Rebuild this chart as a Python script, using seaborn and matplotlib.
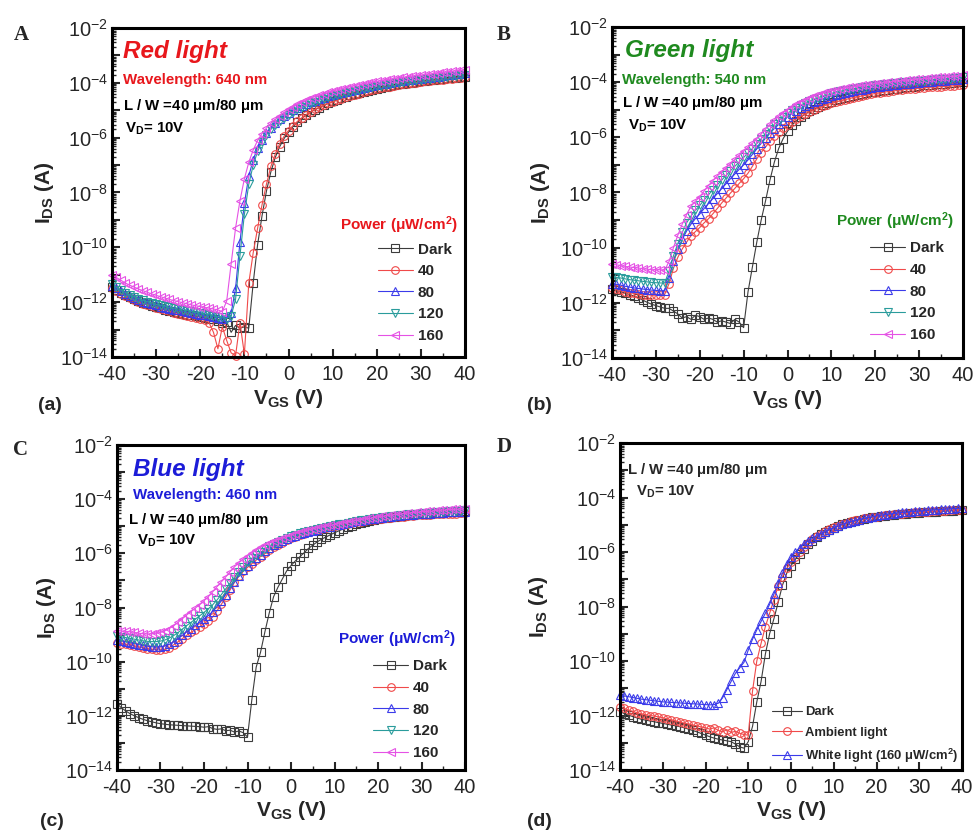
import numpy as np
import pandas as pd
import matplotlib
matplotlib.use("Agg")
import matplotlib.pyplot as plt
import seaborn as sns
from matplotlib.lines import Line2D
from matplotlib.ticker import LogLocator, MultipleLocator, NullFormatter, FuncFormatter

# ---------------- data (log10 of I_DS in A), V_GS from -40 to 40 V step 1 V ----------------
VGS = list(range(-40, 41))

A_dark = [-11.45, -11.55, -11.65, -11.75, -11.82, -11.9, -11.97, -12.03, -12.08, -12.13,
          -12.18, -12.22, -12.27, -12.31, -12.35, -12.38, -12.42, -12.45, -12.48, -12.5,
          -12.53, -12.56, -12.6, -12.62, -12.7, -12.75, -12.72, -13.1, -12.85, -12.95,
          -12.9, -12.95, -11.3, -9.9, -8.85, -7.95, -7.25, -6.72, -6.33, -6.03,
          -5.8, -5.6, -5.44, -5.3, -5.18, -5.07, -4.98, -4.9, -4.82, -4.75,
          -4.68, -4.62, -4.56, -4.51, -4.46, -4.41, -4.37, -4.33, -4.29, -4.25,
          -4.22, -4.18, -4.15, -4.12, -4.09, -4.06, -4.04, -4.01, -3.99, -3.97,
          -3.95, -3.93, -3.91, -3.89, -3.87, -3.86, -3.84, -3.83, -3.81, -3.8,
          -3.78]
A_40 = [-11.5, -11.6, -11.7, -11.78, -11.85, -11.92, -12.0, -12.05, -12.1, -12.15,
        -12.2, -12.25, -12.3, -12.34, -12.38, -12.42, -12.46, -12.5, -12.53, -12.56,
        -12.6, -12.65, -12.75, -13.1, -13.7, -12.9, -13.4, -13.85, -13.95, -12.75,
        -13.9, -11.3, -10.2, -9.3, -8.45, -7.7, -7.05, -6.6, -6.22, -5.95,
        -5.74, -5.56, -5.41, -5.28, -5.16, -5.06, -4.97, -4.89, -4.81, -4.74,
        -4.7, -4.64, -4.58, -4.53, -4.48, -4.43, -4.39, -4.35, -4.31, -4.27,
        -4.24, -4.2, -4.17, -4.14, -4.11, -4.08, -4.06, -4.03, -4.01, -3.99,
        -3.97, -3.95, -3.93, -3.91, -3.89, -3.88, -3.86, -3.85, -3.83, -3.82,
        -3.8]
A_80 = [-11.4, -11.5, -11.6, -11.7, -11.78, -11.85, -11.92, -11.98, -12.03, -12.08,
        -12.12, -12.16, -12.2, -12.24, -12.27, -12.3, -12.33, -12.36, -12.39, -12.42,
        -12.45, -12.48, -12.5, -12.53, -12.56, -12.6, -12.55, -12.4, -11.5, -9.8,
        -8.4, -7.4, -6.8, -6.38, -6.07, -5.83, -5.63, -5.47, -5.33, -5.21,
        -5.1, -5.0, -4.92, -4.84, -4.77, -4.71, -4.65, -4.59, -4.54, -4.49,
        -4.44, -4.4, -4.36, -4.32, -4.28, -4.25, -4.21, -4.18, -4.15, -4.12,
        -4.09, -4.06, -4.03, -4.0, -3.98, -3.95, -3.93, -3.91, -3.89, -3.87,
        -3.85, -3.83, -3.81, -3.79, -3.77, -3.75, -3.73, -3.71, -3.69, -3.67,
        -3.65]
A_120 = [-11.35, -11.45, -11.55, -11.65, -11.73, -11.8, -11.87, -11.93, -11.98, -12.03,
         -12.07, -12.11, -12.15, -12.19, -12.22, -12.25, -12.28, -12.31, -12.34, -12.37,
         -12.4, -12.43, -12.46, -12.5, -12.53, -12.55, -12.6, -12.5, -11.9, -10.3,
         -8.8, -7.7, -7.0, -6.5, -6.15, -5.9, -5.7, -5.53, -5.39, -5.27,
         -5.16, -5.06, -4.97, -4.89, -4.82, -4.75, -4.69, -4.63, -4.58, -4.53,
         -4.48, -4.44, -4.4, -4.36, -4.32, -4.29, -4.25, -4.22, -4.19, -4.16,
         -4.13, -4.1, -4.07, -4.05, -4.02, -4.0, -3.98, -3.95, -3.93, -3.91,
         -3.89, -3.87, -3.85, -3.83, -3.81, -3.79, -3.77, -3.76, -3.74, -3.72,
         -3.7]
A_160 = [-11.0, -11.1, -11.2, -11.3, -11.38, -11.45, -11.52, -11.58, -11.64, -11.7,
         -11.75, -11.8, -11.85, -11.9, -11.94, -11.98, -12.02, -12.06, -12.1, -12.13,
         -12.16, -12.19, -12.22, -12.25, -12.28, -12.35, -11.95, -10.6, -9.3, -8.3,
         -7.5, -6.9, -6.45, -6.1, -5.85, -5.65, -5.48, -5.33, -5.2, -5.08,
         -4.97, -4.87, -4.78, -4.7, -4.63, -4.56, -4.5, -4.45, -4.4, -4.35,
         -4.3, -4.26, -4.22, -4.18, -4.14, -4.1, -4.07, -4.04, -4.01, -3.98,
         -3.95, -3.92, -3.9, -3.87, -3.85, -3.82, -3.8, -3.78, -3.76, -3.74,
         -3.72, -3.7, -3.68, -3.66, -3.64, -3.62, -3.6, -3.58, -3.56, -3.54,
         -3.52]

B_dark = [-11.5, -11.55, -11.6, -11.65, -11.7, -11.75, -11.82, -11.9, -11.98, -12.05,
          -12.1, -12.15, -12.2, -12.2, -12.3, -12.4, -12.55, -12.5, -12.6, -12.45,
          -12.5, -12.6, -12.55, -12.6, -12.7, -12.65, -12.7, -12.75, -12.6, -12.7,
          -12.9, -11.6, -10.7, -9.8, -9.0, -8.3, -7.55, -6.9, -6.4, -6.05,
          -5.78, -5.56, -5.4, -5.27, -5.16, -5.06, -4.98, -4.9, -4.83, -4.77,
          -4.71, -4.66, -4.61, -4.57, -4.53, -4.49, -4.46, -4.43, -4.4, -4.37,
          -4.34, -4.32, -4.3, -4.27, -4.25, -4.23, -4.21, -4.19, -4.17, -4.16,
          -4.14, -4.12, -4.11, -4.09, -4.08, -4.06, -4.05, -4.04, -4.02, -4.01,
          -4.0]
B_40 = [-11.45, -11.5, -11.55, -11.6, -11.63, -11.66, -11.68, -11.7, -11.7, -11.72,
        -11.72, -11.72, -11.7, -11.3, -10.75, -10.35, -10.05, -9.8, -9.57, -9.42,
        -9.27, -9.1, -8.95, -8.77, -8.58, -8.38, -8.2, -8.02, -7.85, -7.67,
        -7.5, -7.3, -7.05, -6.78, -6.55, -6.35, -6.15, -5.95, -5.8, -5.66,
        -5.54, -5.43, -5.33, -5.24, -5.16, -5.08, -5.01, -4.94, -4.88, -4.82,
        -4.77, -4.72, -4.68, -4.64, -4.6, -4.56, -4.53, -4.5, -4.47, -4.44,
        -4.41, -4.39, -4.36, -4.34, -4.32, -4.3, -4.28, -4.26, -4.25, -4.23,
        -4.22, -4.2, -4.19, -4.18, -4.17, -4.16, -4.15, -4.14, -4.13, -4.12,
        -4.11]
B_80 = [-11.3, -11.33, -11.36, -11.4, -11.43, -11.46, -11.48, -11.5, -11.52, -11.54,
        -11.55, -11.56, -11.56, -11.1, -10.5, -10.05, -9.7, -9.4, -9.15, -8.95,
        -8.78, -8.58, -8.4, -8.22, -8.04, -7.86, -7.68, -7.5, -7.33, -7.16,
        -7.0, -6.82, -6.62, -6.42, -6.22, -6.03, -5.85, -5.68, -5.53, -5.39,
        -5.26, -5.14, -5.04, -4.95, -4.87, -4.8, -4.73, -4.67, -4.61, -4.56,
        -4.51, -4.47, -4.43, -4.39, -4.36, -4.33, -4.3, -4.27, -4.24, -4.22,
        -4.19, -4.17, -4.15, -4.13, -4.11, -4.09, -4.08, -4.06, -4.05, -4.03,
        -4.02, -4.0, -3.99, -3.98, -3.96, -3.95, -3.94, -3.93, -3.92, -3.91,
        -3.9]
B_120 = [-11.05, -11.08, -11.1, -11.13, -11.16, -11.18, -11.2, -11.22, -11.24, -11.26,
         -11.27, -11.28, -11.28, -10.85, -10.3, -9.85, -9.45, -9.1, -8.85, -8.65,
         -8.47, -8.27, -8.08, -7.9, -7.72, -7.55, -7.38, -7.21, -7.05, -6.89,
         -6.73, -6.57, -6.41, -6.23, -6.05, -5.87, -5.7, -5.53, -5.39, -5.25,
         -5.13, -5.02, -4.92, -4.83, -4.75, -4.68, -4.62, -4.56, -4.5, -4.45,
         -4.41, -4.37, -4.33, -4.3, -4.27, -4.24, -4.21, -4.18, -4.16, -4.14,
         -4.12, -4.1, -4.08, -4.06, -4.04, -4.02, -4.01, -3.99, -3.98, -3.96,
         -3.95, -3.94, -3.92, -3.91, -3.9, -3.89, -3.88, -3.87, -3.86, -3.84,
         -3.83]
B_160 = [-10.6, -10.62, -10.65, -10.68, -10.7, -10.72, -10.74, -10.76, -10.78, -10.8,
         -10.8, -10.8, -10.82, -10.5, -10.0, -9.55, -9.15, -8.8, -8.5, -8.32,
         -8.15, -7.95, -7.75, -7.57, -7.4, -7.25, -7.1, -6.95, -6.8, -6.65,
         -6.5, -6.36, -6.22, -6.05, -5.88, -5.7, -5.53, -5.38, -5.24, -5.11,
         -5.0, -4.9, -4.8, -4.72, -4.64, -4.57, -4.51, -4.45, -4.4, -4.35,
         -4.31, -4.28, -4.25, -4.22, -4.19, -4.17, -4.14, -4.12, -4.1, -4.08,
         -4.06, -4.04, -4.02, -4.0, -3.98, -3.96, -3.95, -3.93, -3.92, -3.9,
         -3.89, -3.87, -3.86, -3.85, -3.83, -3.82, -3.81, -3.79, -3.78, -3.77,
         -3.75]

C_dark = [-11.55, -11.7, -11.82, -11.92, -12.0, -12.07, -12.13, -12.18, -12.22, -12.26,
          -12.29, -12.31, -12.33, -12.34, -12.35, -12.36, -12.37, -12.38, -12.39, -12.4,
          -12.42, -12.4, -12.47, -12.5, -12.48, -12.55, -12.53, -12.6, -12.56, -12.62,
          -12.78, -11.4, -10.2, -9.65, -8.9, -8.2, -7.6, -7.25, -6.95, -6.65,
          -6.45, -6.28, -6.13, -5.98, -5.82, -5.7, -5.58, -5.48, -5.4, -5.32,
          -5.24, -5.17, -5.1, -5.04, -4.98, -4.93, -4.88, -4.84, -4.8, -4.76,
          -4.73, -4.7, -4.68, -4.66, -4.64, -4.62, -4.61, -4.59, -4.58, -4.56,
          -4.55, -4.54, -4.53, -4.52, -4.51, -4.5, -4.49, -4.48, -4.47, -4.46,
          -4.45]
C_40 = [-9.3, -9.33, -9.36, -9.4, -9.42, -9.45, -9.5, -9.52, -9.55, -9.56,
        -9.57, -9.55, -9.48, -9.38, -9.27, -9.15, -9.03, -8.92, -8.82, -8.72,
        -8.6, -8.48, -8.35, -8.12, -7.88, -7.62, -7.35, -7.07, -6.85, -6.67,
        -6.52, -6.38, -6.25, -6.12, -6.0, -5.86, -5.77, -5.68, -5.6, -5.52,
        -5.45, -5.39, -5.33, -5.28, -5.23, -5.19, -5.15, -5.11, -5.07, -5.04,
        -5.0, -4.97, -4.94, -4.91, -4.88, -4.85, -4.83, -4.8, -4.78, -4.76,
        -4.74, -4.72, -4.7, -4.68, -4.67, -4.65, -4.64, -4.62, -4.61, -4.6,
        -4.59, -4.58, -4.57, -4.56, -4.55, -4.55, -4.54, -4.53, -4.53, -4.52,
        -4.52]
C_80 = [-9.2, -9.23, -9.26, -9.3, -9.33, -9.37, -9.4, -9.43, -9.45, -9.46,
        -9.45, -9.42, -9.36, -9.27, -9.16, -9.03, -8.9, -8.78, -8.66, -8.54,
        -8.42, -8.3, -8.15, -7.96, -7.75, -7.52, -7.29, -7.05, -6.83, -6.63,
        -6.45, -6.3, -6.17, -6.05, -5.93, -5.8, -5.71, -5.63, -5.55, -5.47,
        -5.41, -5.35, -5.29, -5.24, -5.2, -5.16, -5.12, -5.08, -5.04, -5.01,
        -4.97, -4.94, -4.91, -4.88, -4.85, -4.82, -4.8, -4.77, -4.75, -4.73,
        -4.71, -4.69, -4.67, -4.65, -4.63, -4.62, -4.6, -4.59, -4.57, -4.56,
        -4.55, -4.54, -4.53, -4.52, -4.51, -4.5, -4.49, -4.49, -4.48, -4.47,
        -4.47]
C_120 = [-9.05, -9.08, -9.11, -9.14, -9.17, -9.2, -9.23, -9.25, -9.26, -9.26,
         -9.24, -9.2, -9.13, -9.04, -8.93, -8.8, -8.67, -8.55, -8.43, -8.31,
         -8.18, -8.05, -7.9, -7.72, -7.52, -7.31, -7.1, -6.88, -6.68, -6.5,
         -6.33, -6.19, -6.07, -5.96, -5.85, -5.73, -5.65, -5.57, -5.5, -5.43,
         -5.37, -5.31, -5.26, -5.21, -5.17, -5.13, -5.09, -5.05, -5.02, -4.99,
         -4.96, -4.93, -4.9, -4.87, -4.84, -4.81, -4.78, -4.76, -4.73, -4.71,
         -4.69, -4.67, -4.65, -4.63, -4.61, -4.59, -4.58, -4.56, -4.55, -4.53,
         -4.52, -4.51, -4.5, -4.49, -4.47, -4.46, -4.45, -4.44, -4.43, -4.42,
         -4.41]
C_160 = [-8.85, -8.87, -8.88, -8.9, -8.92, -8.95, -8.97, -8.98, -8.97, -8.95,
         -8.92, -8.86, -8.78, -8.68, -8.55, -8.42, -8.28, -8.15, -8.02, -7.9,
         -7.75, -7.6, -7.42, -7.23, -7.05, -6.87, -6.68, -6.5, -6.35, -6.2,
         -6.08, -5.97, -5.87, -5.78, -5.7, -5.63, -5.56, -5.5, -5.44, -5.39,
         -5.32, -5.27, -5.22, -5.18, -5.14, -5.1, -5.06, -5.03, -5.0, -4.97,
         -4.94, -4.91, -4.88, -4.85, -4.82, -4.79, -4.76, -4.73, -4.71, -4.68,
         -4.66, -4.63, -4.61, -4.59, -4.57, -4.55, -4.53, -4.51, -4.5, -4.48,
         -4.47, -4.45, -4.44, -4.43, -4.41, -4.4, -4.39, -4.38, -4.37, -4.36,
         -4.35]

D_dark = [-11.86, -11.93, -11.99, -12.04, -12.09, -12.14, -12.17, -12.2, -12.23, -12.26,
          -12.29, -12.32, -12.35, -12.38, -12.41, -12.45, -12.5, -12.55, -12.6, -12.66,
          -12.72, -12.78, -12.83, -12.87, -12.9, -12.93, -12.96, -13.05, -13.15, -13.2,
          -12.96, -12.4, -11.5, -10.75, -9.75, -9.0, -8.45, -7.85, -7.22, -6.78,
          -6.5, -6.27, -6.07, -5.88, -5.72, -5.58, -5.46, -5.35, -5.26, -5.18,
          -5.11, -5.05, -4.99, -4.94, -4.9, -4.86, -4.82, -4.79, -4.76, -4.73,
          -4.71, -4.69, -4.67, -4.65, -4.63, -4.62, -4.6, -4.59, -4.58, -4.57,
          -4.56, -4.55, -4.54, -4.53, -4.52, -4.51, -4.5, -4.49, -4.48, -4.47,
          -4.46]
D_ambient = [-11.68, -11.74, -11.8, -11.85, -11.9, -11.94, -11.97, -12.0, -12.02, -12.05,
             -12.08, -12.12, -12.16, -12.2, -12.24, -12.28, -12.31, -12.35, -12.38, -12.42,
             -12.45, -12.5, -12.45, -12.55, -12.6, -12.52, -12.62, -12.58, -12.65, -12.7,
             -12.72, -11.1, -10.0, -9.35, -8.74, -8.25, -7.75, -7.25, -6.9, -6.6,
             -6.38, -6.18, -5.99, -5.82, -5.67, -5.54, -5.43, -5.33, -5.24, -5.16,
             -5.09, -5.03, -4.98, -4.93, -4.88, -4.84, -4.81, -4.77, -4.74, -4.72,
             -4.7, -4.67, -4.65, -4.64, -4.62, -4.6, -4.59, -4.58, -4.56, -4.55,
             -4.54, -4.53, -4.52, -4.51, -4.5, -4.49, -4.48, -4.47, -4.46, -4.46,
             -4.45]
D_white = [-11.25, -11.28, -11.31, -11.34, -11.37, -11.4, -11.42, -11.44, -11.46, -11.48,
           -11.5, -11.51, -11.52, -11.53, -11.54, -11.55, -11.56, -11.57, -11.58, -11.59,
           -11.6, -11.61, -11.6, -11.55, -11.35, -11.05, -10.75, -10.45, -10.25, -10.05,
           -9.6, -9.2, -8.86, -8.55, -8.25, -7.92, -7.55, -7.15, -6.78, -6.45,
           -6.2, -6.0, -5.85, -5.72, -5.6, -5.5, -5.41, -5.33, -5.25, -5.18,
           -5.11, -5.05, -4.99, -4.94, -4.89, -4.85, -4.81, -4.77, -4.74, -4.71,
           -4.68, -4.65, -4.63, -4.61, -4.59, -4.57, -4.55, -4.54, -4.52, -4.51,
           -4.5, -4.49, -4.47, -4.46, -4.45, -4.44, -4.43, -4.42, -4.41, -4.4,
           -4.39]

POWER_LABELS = ["Dark", "40", "80", "120", "160"]
D_LABELS = ["Dark", "Ambient light", "White light (160 $\\mathregular{\\mu}$W/cm$^{\\mathregular{2}}$)"]

# ---------------- style ----------------
sns.set_theme(style="ticks")
plt.rcParams["font.family"] = ["Liberation Sans", "DejaVu Sans"]
plt.rcParams["mathtext.fontset"] = "custom"
plt.rcParams["mathtext.rm"] = "Liberation Sans"
plt.rcParams["mathtext.it"] = "Liberation Sans:italic"
plt.rcParams["mathtext.bf"] = "Liberation Sans:bold"
plt.rcParams["axes.unicode_minus"] = False

COL = {"Dark": "#3c3c3c", "40": "#f04a4a", "80": "#3b3bea", "120": "#2a9c9c", "160": "#e552e5"}
MARK = {"Dark": "s", "40": "o", "80": "^", "120": "v", "160": "<"}
D_COL = ["#3c3c3c", "#f04a4a", "#3b3bea"]
D_MARK = ["s", "o", "^"]

fig = plt.figure(figsize=(9.77, 8.38), dpi=100)
W, H = 977.0, 838.0


def add_axes(l, r, t, b):
    return fig.add_axes([l / W, 1 - b / H, (r - l) / W, (b - t) / H])


axA = add_axes(112, 465, 28, 357)
axB = add_axes(612, 963, 27, 358)
axC = add_axes(117, 465, 445, 770)
axD = add_axes(620, 962, 443, 770)


def ytick_fmt(v, pos):
    e = int(round(np.log10(v)))
    if e % 2 == 0:
        return r"$\mathregular{10^{%d}}$" % e
    return ""


def plot_series(ax, logs, color, marker):
    df = pd.DataFrame({"V": VGS, "I": 10.0 ** np.array(logs)})
    sns.lineplot(data=df, x="V", y="I", ax=ax, color=color, marker=marker,
                 markersize=5.5, markerfacecolor="none", markeredgecolor=color,
                 markeredgewidth=0.8, linewidth=0.8, estimator=None, sort=False,
                 legend=False, clip_on=False)


def style_axes(ax, ylab_x):
    ax.set_yscale("log")
    ax.set_xlim(-40, 40)
    ax.set_ylim(1e-14, 1e-2)
    ax.xaxis.set_major_locator(MultipleLocator(10))
    ax.xaxis.set_minor_locator(MultipleLocator(5))
    ax.yaxis.set_major_locator(LogLocator(base=10, numticks=30))
    ax.yaxis.set_minor_locator(LogLocator(base=10, subs=np.arange(2, 10), numticks=30))
    ax.yaxis.set_major_formatter(FuncFormatter(ytick_fmt))
    ax.yaxis.set_minor_formatter(NullFormatter())
    ax.tick_params(which="both", direction="in", top=False, right=False, labelsize=14.5)
    ax.tick_params(which="major", length=6, width=1.5)
    ax.tick_params(which="minor", length=3, width=1.0)
    ax.tick_params(axis="x", pad=6)
    ax.tick_params(axis="y", pad=3)
    for s in ax.spines.values():
        s.set_linewidth(2.2)
        s.set_color("black")
    ax.set_xlabel(r"V$_{\mathregular{GS}}$ (V)", fontsize=15, fontweight="bold")
    ax.set_ylabel(r"I$_{\mathregular{DS}}$ (A)", fontsize=15, fontweight="bold")
    ax.xaxis.set_label_coords(0.5, -0.09)
    ax.yaxis.set_label_coords(ylab_x, 0.5)
    ax.set_facecolor("white")


def power_panel(ax, data, title, wl_text, tcolor, pos):
    for lab, logs in zip(POWER_LABELS, data):
        plot_series(ax, logs, COL[lab], MARK[lab])
    tx, ty = pos
    ax.text(tx[0], ty[0], title, transform=ax.transAxes, fontsize=17.5,
            fontweight="bold", style="italic", color=tcolor, va="top", ha="left")
    ax.text(tx[1], ty[1], wl_text, transform=ax.transAxes, fontsize=10.8,
            fontweight="bold", color=tcolor, va="top", ha="left")
    ax.text(tx[2], ty[2], r"L / W =40 $\mathregular{\mu}$m/80 $\mathregular{\mu}$m",
            transform=ax.transAxes, fontsize=10.8, fontweight="bold", color="black",
            va="top", ha="left")
    ax.text(tx[3], ty[3], r"V$_{\mathregular{D}}$= 10V", transform=ax.transAxes,
            fontsize=10.8, fontweight="bold", color="black", va="top", ha="left")


def power_legend(ax, tcolor, hx, hy, title_xy):
    handles = [Line2D([0], [0], color=COL[l], marker=MARK[l], markersize=5.5,
                      markerfacecolor="none", markeredgecolor=COL[l],
                      markeredgewidth=0.8, linewidth=0.8) for l in POWER_LABELS]
    leg = ax.legend(handles, POWER_LABELS, loc="upper left", bbox_to_anchor=(hx, hy),
                    frameon=False, borderpad=0, borderaxespad=0, handlelength=2.3,
                    handletextpad=0.3, labelspacing=0.5,
                    prop={"weight": "bold", "size": 11})
    ax.text(title_xy[0], title_xy[1],
            r"Power ($\mathregular{\mu}$W/cm$^{\mathregular{2}}$)",
            transform=ax.transAxes, fontsize=11, fontweight="bold", color=tcolor,
            ha="right", va="center")
    return leg


RED_T, GREEN_T, BLUE_T = "#e8171c", "#1f8a1f", "#1c1cd8"

power_panel(axA, [A_dark, A_40, A_80, A_120, A_160], "Red light",
            "Wavelength: 640 nm", RED_T,
            ((0.03, 0.03, 0.03, 0.036), (0.965, 0.862, 0.79, 0.72)))
power_panel(axB, [B_dark, B_40, B_80, B_120, B_160], "Green light",
            "Wavelength: 540 nm", GREEN_T,
            ((0.036, 0.028, 0.028, 0.045), (0.965, 0.862, 0.797, 0.727)))
power_panel(axC, [C_dark, C_40, C_80, C_120, C_160], "Blue light",
            "Wavelength: 460 nm", BLUE_T,
            ((0.046, 0.046, 0.032, 0.057), (0.96, 0.868, 0.798, 0.73)))

for ax, lx in ((axA, -0.16), (axB, -0.17), (axC, -0.17), (axD, -0.205)):
    style_axes(ax, lx)

power_legend(axA, RED_T, 0.753, 0.348, (0.98, 0.402))
power_legend(axB, GREEN_T, 0.735, 0.352, (0.975, 0.412))
power_legend(axC, BLUE_T, 0.736, 0.34, (0.975, 0.403))

for lab, logs, c, m in zip(D_LABELS, [D_dark, D_ambient, D_white], D_COL, D_MARK):
    plot_series(axD, logs, c, m)
axD.text(0.02, 0.945, r"L / W =40 $\mathregular{\mu}$m/80 $\mathregular{\mu}$m",
         transform=axD.transAxes, fontsize=10.8, fontweight="bold", va="top", ha="left")
axD.text(0.046, 0.875, r"V$_{\mathregular{D}}$= 10V", transform=axD.transAxes,
         fontsize=10.8, fontweight="bold", va="top", ha="left")
hD = [Line2D([0], [0], color=c, marker=m, markersize=5.5, markerfacecolor="none",
             markeredgecolor=c, markeredgewidth=0.8, linewidth=0.8)
      for c, m in zip(D_COL, D_MARK)]
axD.legend(hD, D_LABELS, loc="upper left", bbox_to_anchor=(0.444, 0.195), frameon=False,
           borderpad=0, borderaxespad=0, handlelength=2.3, handletextpad=0.25,
           labelspacing=0.62, prop={"weight": "bold", "size": 9.4})

# panel letters
for x, y, s in ((14, 40, "A"), (497, 40, "B"), (13, 455, "C"), (497, 452, "D")):
    fig.text(x / W, 1 - y / H, s, fontsize=15, fontweight="bold",
             family=["Liberation Serif", "DejaVu Serif"], ha="left", va="baseline")
for x, y, s in ((38, 410, "(a)"), (527, 410, "(b)"), (40, 826, "(c)"), (527, 826, "(d)")):
    fig.text(x / W, 1 - y / H, s, fontsize=14, fontweight="bold", ha="left", va="baseline")

fig.savefig("out.png", dpi=100, facecolor="white")
